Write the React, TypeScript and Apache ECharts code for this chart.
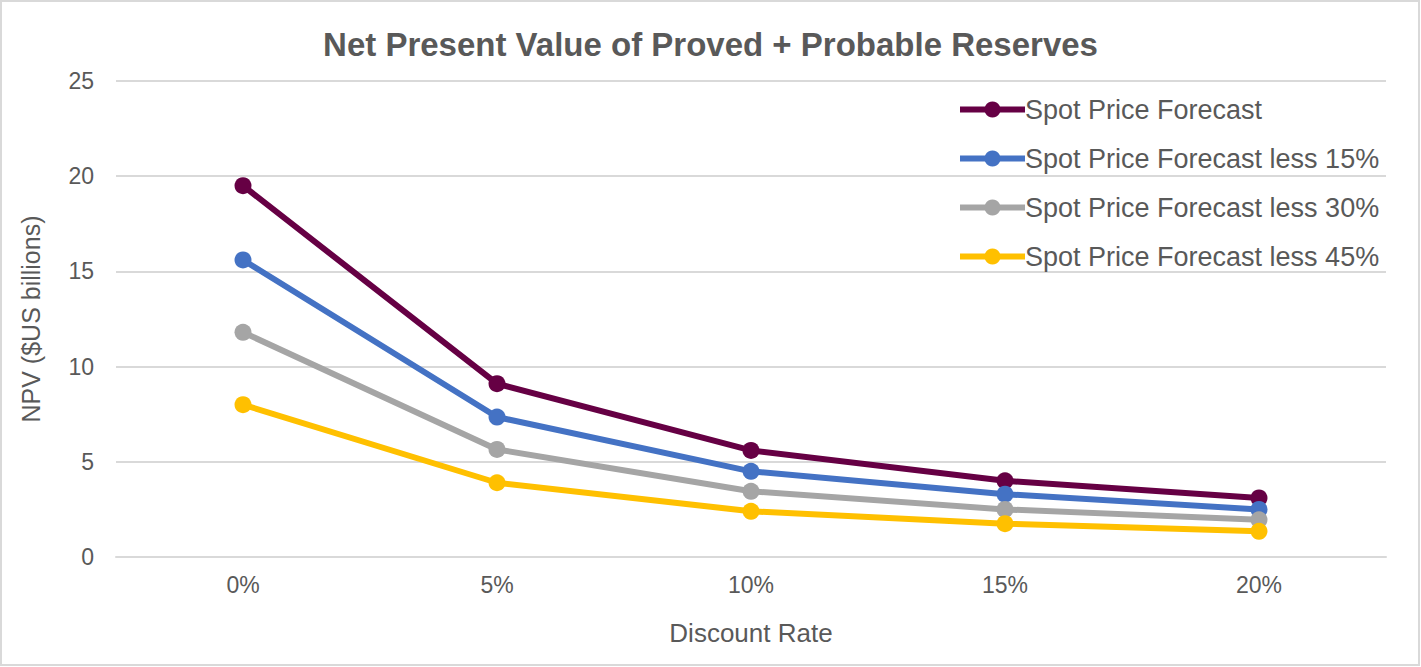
import React, { useEffect, useRef } from "react";
import * as echarts from "echarts";

const categories = ["0%", "5%", "10%", "15%", "20%"];
const spot = [19.5, 9.1, 5.6, 4.0, 3.1];
const less15 = [15.6, 7.35, 4.5, 3.3, 2.5];
const less30 = [11.8, 5.65, 3.45, 2.5, 1.95];
const less45 = [8.0, 3.9, 2.4, 1.75, 1.35];
const seriesNames = [
  "Spot Price Forecast",
  "Spot Price Forecast less 15%",
  "Spot Price Forecast less 30%",
  "Spot Price Forecast less 45%",
];
const colors = ["#660044", "#4472C4", "#A5A5A5", "#FFC000"];

export default function App() {
  const ref = useRef<HTMLDivElement>(null);
  useEffect(() => {
    if (!ref.current) return;
    const chart = echarts.init(ref.current, null, { renderer: "svg" });
    const data = [spot, less15, less30, less45];
    chart.setOption({
      animation: false,
      backgroundColor: "#ffffff",
      textStyle: { fontFamily: "'Liberation Sans', Arial, sans-serif" },
      title: {
        text: "Net Present Value of Proved + Probable Reserves",
        left: "center",
        top: 23,
        textStyle: { fontSize: 33, fontWeight: "bold", color: "#595959" },
      },
      graphic: [
        {
          type: "rect",
          shape: { x: 1, y: 1, width: 1418, height: 664 },
          style: { fill: "none", stroke: "#d9d9d9", lineWidth: 2 },
          silent: true,
        },
      ],
      legend: {
        orient: "vertical",
        left: 952,
        top: 91,
        itemWidth: 65,
        itemHeight: 20,
        itemGap: 22,
        lineStyle: { width: 6 },
        textStyle: { fontSize: 27, color: "#595959", padding: [0, 0, 0, -5] },
        data: seriesNames,
      },
      grid: { left: 116, right: 35, top: 81, bottom: 110 },
      xAxis: {
        type: "category",
        data: categories,
        boundaryGap: true,
        name: "Discount Rate",
        nameLocation: "middle",
        nameGap: 63,
        nameTextStyle: { fontSize: 26, color: "#595959" },
        axisLine: { show: true, lineStyle: { color: "#d9d9d9", width: 2 } },
        axisTick: { show: false },
        axisLabel: { fontSize: 23, color: "#595959", margin: 16 },
      },
      yAxis: {
        type: "value",
        min: 0,
        max: 25,
        interval: 5,
        name: "NPV ($US billions)",
        nameLocation: "middle",
        nameGap: 73,
        nameTextStyle: { fontSize: 25, color: "#595959" },
        axisLine: { show: false },
        axisTick: { show: false },
        axisLabel: { fontSize: 23, color: "#595959", margin: 22 },
        splitLine: { lineStyle: { color: "#d9d9d9", width: 2 } },
      },
      series: seriesNames.map((name, i) => ({
        name,
        type: "line",
        data: data[i],
        symbol: "circle",
        symbolSize: 17,
        lineStyle: { width: 6, color: colors[i] },
        itemStyle: { color: colors[i] },
      })),
    });
    return () => chart.dispose();
  }, []);
  return (
    <div
      ref={ref}
      style={{ position: "fixed", left: 0, top: 0, width: 1421, height: 667 }}
    />
  );
}
